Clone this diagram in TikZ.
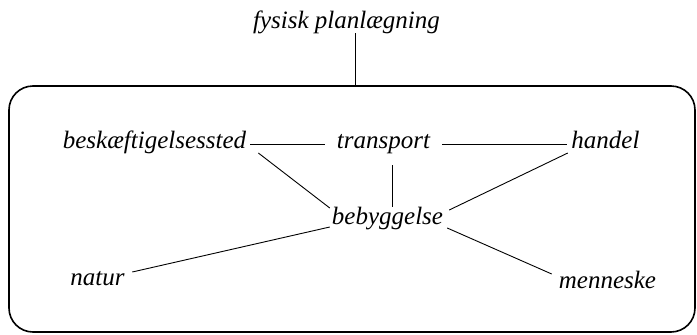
\documentclass[tikz,border=0pt]{standalone}
\usepackage{fontspec}
\setmainfont{Liberation Serif}
\begin{document}
\begin{tikzpicture}[x=1pt,y=1pt,
  lbl/.style={inner sep=0pt, anchor=base, font=\fontsize{25}{30}\selectfont\itshape},
  conn/.style={line width=0.9pt},
  frame/.style={draw, line width=1.6pt, rounded corners=24pt, minimum width=686pt, minimum height=246pt, inner sep=0pt}]
\useasboundingbox (0,0) rectangle (697,-335);
\node[frame] (box) at (352,-209) {};
\node[lbl] (fysisk) at (346.5,-28) {fysisk planlægning};
\node[lbl] (besk) at (154.5,-148) {beskæftigelsessted};
\node[lbl] (transport) at (383.5,-148) {transport};
\node[lbl] (handel) at (605.5,-148) {handel};
\node[lbl] (bebyg) at (387.5,-224) {bebyggelse};
\node[lbl] (natur) at (97.5,-285) {natur};
\node[lbl] (menneske) at (607.5,-288) {menneske};
\draw[conn] ([xshift=8.5pt,yshift=-5pt]fysisk.base) coordinate (ft) -- (ft |- box.north);
\draw[conn] ([xshift=4pt,yshift=4pt]besk.base east) -- ([xshift=-12pt,yshift=4pt]transport.base west);
\draw[conn] ([xshift=12pt,yshift=4pt]transport.base east) -- ([xshift=-4.5pt,yshift=4pt]handel.base west);
\draw[conn] ([xshift=12pt,yshift=-5pt]besk.base east) -- ([xshift=-2pt,yshift=16pt]bebyg.base west);
\draw[conn] ([xshift=8.5pt,yshift=-17pt]transport.base) -- ([xshift=4.5pt,yshift=17pt]bebyg.base);
\draw[conn] ([xshift=-3.5pt,yshift=-5pt]handel.base west) -- ([xshift=6pt,yshift=14pt]bebyg.base east);
\draw[conn] ([xshift=7.5pt,yshift=13pt]natur.base east) -- ([xshift=-2pt,yshift=-3pt]bebyg.base west);
\draw[conn] ([xshift=4pt,yshift=-4pt]bebyg.base east) -- ([xshift=-7pt,yshift=14pt]menneske.base west);
\end{tikzpicture}
\end{document}
